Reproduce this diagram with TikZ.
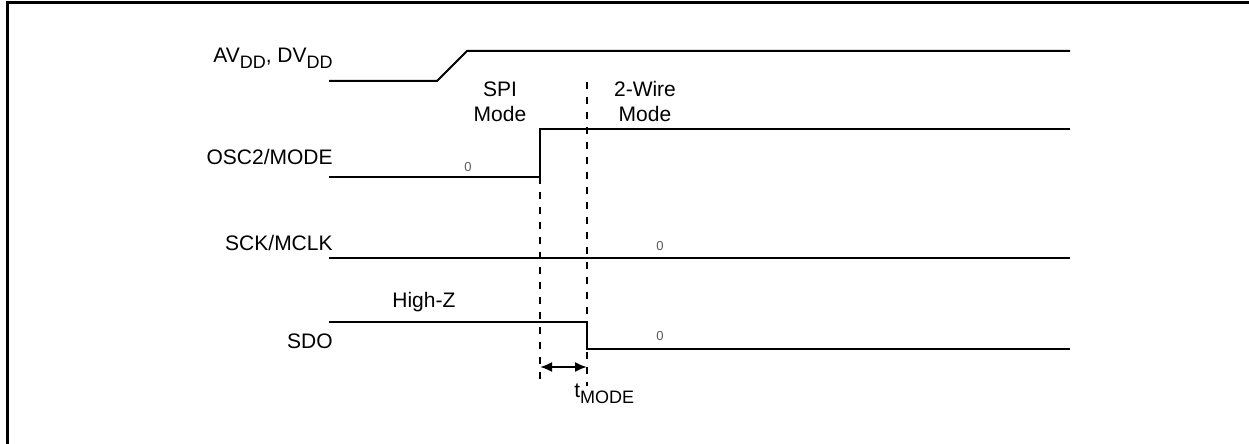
\documentclass[tikz,border=0pt]{standalone}
\usepackage{fontspec}
\setmainfont{Liberation Sans}
\usetikzlibrary{arrows.meta,positioning}
\newcommand{\lowsub}[1]{\raisebox{-3pt}{\fontsize{9}{10}\selectfont #1}}

\begin{document}
\begin{tikzpicture}[x=0.5pt,y=-0.5pt,
    sig/.style={line width=1pt},
    guide/.style={line width=1pt, dash pattern=on 3.5pt off 4pt},
    signame/.style={anchor=base east, inner sep=0pt, font=\fontsize{10.5}{12.5}\selectfont},
    txt/.style={anchor=base, inner sep=0pt, font=\fontsize{10.5}{12.5}\selectfont},
    zero/.style={anchor=base, inner sep=0pt, text=black!65, font=\fontsize{6.5}{8}\selectfont}]
    \useasboundingbox (0,0) rectangle (1249,444);

    % Frame
    \draw[line width=1.5pt] (7,444) -- (7,3) -- (1249,3);

    % Signal names
    \node[signame] (avdd) at (333,63) {AV\lowsub{DD}, DV\lowsub{DD}};
    \foreach \name/\lbl/\y in {osc/OSC2\slash MODE/165, sck/SCK\slash MCLK/250, sdo/SDO/348} {
        \node[signame] (\name) at (333,\y) {\lbl};
    }

    % Waveforms
    \draw[sig] (329,81) -- (437,81) -- (467,51) -- (1070,51);
    \draw[sig] (329,177) -- (540,177) -- (540,129) -- (1070,129);
    \draw[sig] (329,258) -- (1070,258);
    \draw[sig] (329,322) -- (587,322) -- (587,349) -- (1070,349);

    % Levels
    \node[zero] (osc0) at (468,172) {0};
    \node[zero] (sck0) at (660,250) {0};
    \node[zero] (sdo0) at (660,340) {0};
    \node[txt, anchor=base west] (hiz) at (392,307) {High-Z};

    % Mode labels
    \node[txt] (spi) at (500,97) {SPI};
    \node[txt] (spimode) at (500,122) {Mode};
    \node[txt] (twowire) at (645,97) {2-Wire};
    \node[txt] (twomode) at (645,122) {Mode};

    % Timing guides
    \coordinate (g1top) at (540,177);
    \coordinate (g1bot) at (540,386);
    \coordinate (g2top) at (587,82);
    \coordinate (g2bot) at (587,386);
    \draw[guide] (g1top) -- (g1bot);
    \draw[guide] (g2top) -- (g2bot);
    \coordinate (a1) at (540,367);
    \coordinate (a2) at (587,367);
    \draw[sig, {Latex[length=6pt,width=5pt]}-{Latex[length=6pt,width=5pt]}] (a1) -- (a2);
    \node[txt, anchor=base west] (tmode) at (574,397) {t\lowsub{MODE}};
\end{tikzpicture}
\end{document}
